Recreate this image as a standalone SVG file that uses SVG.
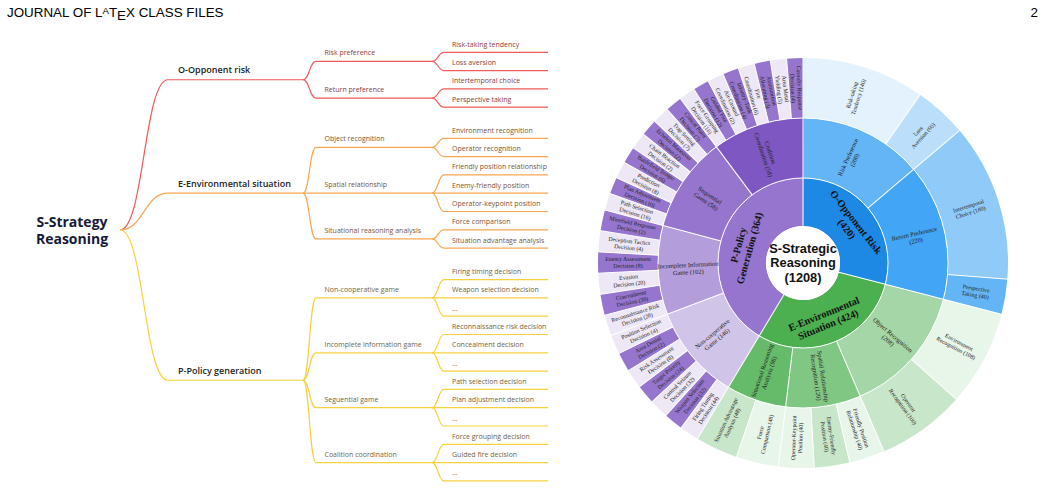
<svg xmlns="http://www.w3.org/2000/svg" width="1045" height="488" viewBox="0 0 1045 488">
<style>
.hdr{font-family:"Liberation Sans",Arial,sans-serif;font-size:13.4px;fill:#000}
.root{font-family:"Open Sans",sans-serif;font-weight:700;font-size:14px;fill:#161a3a;text-anchor:middle}
.l1{font-family:"Open Sans",sans-serif;font-weight:600;font-size:9px;fill:#222}
.l2,.l3{font-family:"Open Sans",sans-serif;font-size:7px}
.o{fill:#8a3c3c}.e{fill:#7a5535}.p{fill:#6f6644}
.co,.ce,.cp{fill:none;stroke-width:1.2}
.co{stroke:#f15b5b}.ce{stroke:#f7a655}.cp{stroke:#f6d13f}
.sb text{font-family:"Liberation Serif","DejaVu Serif",serif;text-anchor:middle;fill:#222}
.sb .lf{font-size:5.9px}
.sb .md{font-size:6.4px}
.sb .ct{font-size:10.2px;font-weight:700;fill:#111}
.sep line,.sep circle{stroke:#fff;stroke-width:1;fill:none}
.cen{font-family:"Liberation Sans",Arial,sans-serif;font-weight:700;font-size:12.8px;text-anchor:middle;fill:#111}
</style>
<defs>
<path id="c1" d="M61,0A61,61 0 1 1 -61,0A61,61 0 1 1 61,0" fill="none" stroke-width="48"/>
<path id="c2" d="M115,0A115,115 0 1 1 -115,0A115,115 0 1 1 115,0" fill="none" stroke-width="60"/>
<path id="c3" d="M175,0A175,175 0 1 1 -175,0A175,175 0 1 1 175,0" fill="none" stroke-width="60"/>
</defs>
<rect width="1045" height="488" fill="#fff"/>
<text class="hdr" x="7" y="17">JOURNAL OF L<tspan dy="-2.7" font-size="9.6">A</tspan><tspan dy="2.7">T</tspan><tspan dy="3">E</tspan><tspan dy="-3">X CLASS FILES</tspan></text>
<text class="hdr" x="1038" y="17" text-anchor="end" font-size="14">2</text>

<g id="connectors">
<g class="co">
<path d="M120,230 C144,230 144,79.75 168,79.75 H303"/>
<path d="M303,79.75 C309.5,79.75 309.5,61.45 316,61.45 H432"/>
<path d="M303,79.75 C309.5,79.75 309.5,98.05 316,98.05 H432"/>
<path d="M432,61.45 C438,61.45 438,52.3 444,52.3 H548"/>
<path d="M432,61.45 C438,61.45 438,70.6 444,70.6 H548"/>
<path d="M432,98.05 C438,98.05 438,88.9 444,88.9 H548"/>
<path d="M432,98.05 C438,98.05 438,107.2 444,107.2 H548"/>
</g>
<g class="ce">
<path d="M120,230 C144,230 144,193.2 168,193.2 H303"/>
<path d="M303,193.2 C309.5,193.2 309.5,147.45 316,147.45 H432"/>
<path d="M303,193.2 H432"/>
<path d="M303,193.2 C309.5,193.2 309.5,238.95 316,238.95 H432"/>
<path d="M432,147.45 C438,147.45 438,138.3 444,138.3 H548"/>
<path d="M432,147.45 C438,147.45 438,156.6 444,156.6 H548"/>
<path d="M432,193.2 C438,193.2 438,174.9 444,174.9 H548"/>
<path d="M432,193.2 H548"/>
<path d="M432,193.2 C438,193.2 438,211.5 444,211.5 H548"/>
<path d="M432,238.95 C438,238.95 438,229.8 444,229.8 H548"/>
<path d="M432,238.95 C438,238.95 438,248.1 444,248.1 H548"/>
</g>
<g class="cp">
<path d="M120,230 C144,230 144,380.25 168,380.25 H303"/>
<path d="M303,380.25 C309.5,380.25 309.5,297.9 316,297.9 H432"/>
<path d="M303,380.25 C309.5,380.25 309.5,352.8 316,352.8 H432"/>
<path d="M303,380.25 C309.5,380.25 309.5,407.7 316,407.7 H432"/>
<path d="M303,380.25 C309.5,380.25 309.5,462.6 316,462.6 H432"/>
<path d="M432,297.9 C438,297.9 438,279.6 444,279.6 H548"/>
<path d="M432,297.9 H548"/>
<path d="M432,297.9 C438,297.9 438,316.2 444,316.2 H548"/>
<path d="M432,352.8 C438,352.8 438,334.5 444,334.5 H548"/>
<path d="M432,352.8 H548"/>
<path d="M432,352.8 C438,352.8 438,371.1 444,371.1 H548"/>
<path d="M432,407.7 C438,407.7 438,389.4 444,389.4 H548"/>
<path d="M432,407.7 H548"/>
<path d="M432,407.7 C438,407.7 438,426 444,426 H548"/>
<path d="M432,462.6 C438,462.6 438,444.3 444,444.3 H548"/>
<path d="M432,462.6 H548"/>
<path d="M432,462.6 C438,462.6 438,480.9 444,480.9 H548"/>
</g>
</g>

<g id="root"><text class="root" x="72" y="227"><tspan x="72" y="227">S-Strategy</tspan><tspan x="72" y="244">Reasoning</tspan></text></g>
<g id="n-O"><text class="l1" x="178" y="73">O-Opponent risk</text></g>
<g id="n-E"><text class="l1" x="178" y="186.5">E-Environmental situation</text></g>
<g id="n-P"><text class="l1" x="178" y="373.5">P-Policy generation</text></g>

<g id="n-O1"><text class="l2 o" x="324.5" y="55.45">Risk preference</text></g>
<g id="n-O2"><text class="l2 o" x="324.5" y="92.05">Return preference</text></g>
<g id="n-E1"><text class="l2 e" x="324.5" y="141.45">Object recognition</text></g>
<g id="n-E2"><text class="l2 e" x="324.5" y="187.2">Spatial relationship</text></g>
<g id="n-E3"><text class="l2 e" x="324.5" y="232.95">Situational reasoning analysis</text></g>
<g id="n-P1"><text class="l2 p" x="324.5" y="291.9">Non-cooperative game</text></g>
<g id="n-P2"><text class="l2 p" x="324.5" y="346.8">Incomplete information game</text></g>
<g id="n-P3"><text class="l2 p" x="324.5" y="401.7">Seguential game</text></g>
<g id="n-P4"><text class="l2 p" x="324.5" y="456.6">Coalition coordination</text></g>

<g id="n-O1a"><text class="l3 o" x="452" y="46.8">Risk-taking tendency</text></g>
<g id="n-O1b"><text class="l3 o" x="452" y="65.1">Loss aversion</text></g>
<g id="n-O2a"><text class="l3 o" x="452" y="83.4">Intertemporal choice</text></g>
<g id="n-O2b"><text class="l3 o" x="452" y="101.7">Perspective taking</text></g>
<g id="n-E1a"><text class="l3 e" x="452" y="132.8">Environment recognition</text></g>
<g id="n-E1b"><text class="l3 e" x="452" y="151.1">Operator recognition</text></g>
<g id="n-E2a"><text class="l3 e" x="452" y="169.4">Friendly position relationship</text></g>
<g id="n-E2b"><text class="l3 e" x="452" y="187.7">Enemy-friendly position</text></g>
<g id="n-E2c"><text class="l3 e" x="452" y="206">Operator-keypoint position</text></g>
<g id="n-E3a"><text class="l3 e" x="452" y="224.3">Force comparison</text></g>
<g id="n-E3b"><text class="l3 e" x="452" y="242.6">Situation advantage analysis</text></g>
<g id="n-P1a"><text class="l3 p" x="452" y="274.1">Firing timing decision</text></g>
<g id="n-P1b"><text class="l3 p" x="452" y="292.4">Weapon selection decision</text></g>
<g id="n-P1c"><text class="l3 p" x="452" y="310.7">...</text></g>
<g id="n-P2a"><text class="l3 p" x="452" y="329">Reconnaissance risk decision</text></g>
<g id="n-P2b"><text class="l3 p" x="452" y="347.3">Concealment decision</text></g>
<g id="n-P2c"><text class="l3 p" x="452" y="365.6">...</text></g>
<g id="n-P3a"><text class="l3 p" x="452" y="383.9">Path selection decision</text></g>
<g id="n-P3b"><text class="l3 p" x="452" y="402.2">Plan adjustment decision</text></g>
<g id="n-P3c"><text class="l3 p" x="452" y="420.5">...</text></g>
<g id="n-P4a"><text class="l3 p" x="452" y="438.8">Force grouping decision</text></g>
<g id="n-P4b"><text class="l3 p" x="452" y="457.1">Guided fire decision</text></g>
<g id="n-P4c"><text class="l3 p" x="452" y="475.4">...</text></g>

<g id="sunburst" class="sb" transform="translate(803 263)">
<g id="ring1">
<use href="#c1" stroke="#1e88e5" stroke-dasharray="111.6 2000" transform="rotate(-90)"/>
<use href="#c1" stroke="#4caf50" stroke-dasharray="113.7 2000" transform="rotate(14.5)"/>
<use href="#c1" stroke="#9575cd" stroke-dasharray="158.9 2000" transform="rotate(121)"/>
</g>
<g id="ring2">
<use href="#c2" stroke="#64b5f6" stroke-dasharray="100.2 2000" transform="rotate(-90)"/>
<use href="#c2" stroke="#42a5f5" stroke-dasharray="110.2 2000" transform="rotate(-40.24)"/>
<use href="#c2" stroke="#a5d6a7" stroke-dasharray="105.2 2000" transform="rotate(14.5)"/>
<use href="#c2" stroke="#81c784" stroke-dasharray="60.8 2000" transform="rotate(66.75)"/>
<use href="#c2" stroke="#66bb6a" stroke-dasharray="48.7 2000" transform="rotate(96.89)"/>
<use href="#c2" stroke="#d1c4e9" stroke-dasharray="77.2 2000" transform="rotate(121)"/>
<use href="#c2" stroke="#b39ddb" stroke-dasharray="72 2000" transform="rotate(159.3)"/>
<use href="#c2" stroke="#9575cd" stroke-dasharray="77.2 2000" transform="rotate(195)"/>
<use href="#c2" stroke="#7e57c2" stroke-dasharray="74 2000" transform="rotate(233.3)"/>
</g>
<g id="ring3">
<use href="#c3" stroke="#e3f2fd" stroke-dasharray="106.7 2000" transform="rotate(-90)"/>
<use href="#c3" stroke="#bbdefb" stroke-dasharray="45.9 2000" transform="rotate(-55.17)"/>
<use href="#c3" stroke="#90caf9" stroke-dasharray="137.1 2000" transform="rotate(-40.24)"/>
<use href="#c3" stroke="#64b5f6" stroke-dasharray="30.7 2000" transform="rotate(4.55)"/>
<use href="#c3" stroke="#e8f5e9" stroke-dasharray="83.2 2000" transform="rotate(14.5)"/>
<use href="#c3" stroke="#c8e6c9" stroke-dasharray="77 2000" transform="rotate(41.63)"/>
<use href="#c3" stroke="#e8f5e9" stroke-dasharray="31 2000" transform="rotate(66.75)"/>
<use href="#c3" stroke="#c8e6c9" stroke-dasharray="31 2000" transform="rotate(76.8)"/>
<use href="#c3" stroke="#e8f5e9" stroke-dasharray="31 2000" transform="rotate(86.84)"/>
<use href="#c3" stroke="#e8f5e9" stroke-dasharray="37.1 2000" transform="rotate(96.89)"/>
<use href="#c3" stroke="#c8e6c9" stroke-dasharray="37.1 2000" transform="rotate(108.95)"/>
<use href="#c3" stroke="#ede7f6" stroke-dasharray="17 2000" transform="rotate(121)"/>
<use href="#c3" stroke="#9575cd" stroke-dasharray="17 2000" transform="rotate(126.47)"/>
<use href="#c3" stroke="#ede7f6" stroke-dasharray="17 2000" transform="rotate(131.94)"/>
<use href="#c3" stroke="#9575cd" stroke-dasharray="17 2000" transform="rotate(137.41)"/>
<use href="#c3" stroke="#ede7f6" stroke-dasharray="17 2000" transform="rotate(142.89)"/>
<use href="#c3" stroke="#9575cd" stroke-dasharray="17 2000" transform="rotate(148.36)"/>
<use href="#c3" stroke="#ede7f6" stroke-dasharray="17 2000" transform="rotate(153.83)"/>
<use href="#c3" stroke="#ede7f6" stroke-dasharray="18.5 2000" transform="rotate(159.3)"/>
<use href="#c3" stroke="#9575cd" stroke-dasharray="18.5 2000" transform="rotate(165.25)"/>
<use href="#c3" stroke="#ede7f6" stroke-dasharray="18.5 2000" transform="rotate(171.2)"/>
<use href="#c3" stroke="#9575cd" stroke-dasharray="18.5 2000" transform="rotate(177.15)"/>
<use href="#c3" stroke="#ede7f6" stroke-dasharray="18.5 2000" transform="rotate(183.1)"/>
<use href="#c3" stroke="#9575cd" stroke-dasharray="18.5 2000" transform="rotate(189.05)"/>
<use href="#c3" stroke="#ede7f6" stroke-dasharray="14.9 2000" transform="rotate(195)"/>
<use href="#c3" stroke="#9575cd" stroke-dasharray="14.9 2000" transform="rotate(199.79)"/>
<use href="#c3" stroke="#ede7f6" stroke-dasharray="14.9 2000" transform="rotate(204.58)"/>
<use href="#c3" stroke="#9575cd" stroke-dasharray="14.9 2000" transform="rotate(209.36)"/>
<use href="#c3" stroke="#ede7f6" stroke-dasharray="14.9 2000" transform="rotate(214.15)"/>
<use href="#c3" stroke="#9575cd" stroke-dasharray="14.9 2000" transform="rotate(218.94)"/>
<use href="#c3" stroke="#ede7f6" stroke-dasharray="14.9 2000" transform="rotate(223.73)"/>
<use href="#c3" stroke="#9575cd" stroke-dasharray="14.9 2000" transform="rotate(228.51)"/>
<use href="#c3" stroke="#ede7f6" stroke-dasharray="14.3 2000" transform="rotate(233.3)"/>
<use href="#c3" stroke="#9575cd" stroke-dasharray="14.3 2000" transform="rotate(237.89)"/>
<use href="#c3" stroke="#ede7f6" stroke-dasharray="14.3 2000" transform="rotate(242.48)"/>
<use href="#c3" stroke="#9575cd" stroke-dasharray="14.3 2000" transform="rotate(247.06)"/>
<use href="#c3" stroke="#ede7f6" stroke-dasharray="14.3 2000" transform="rotate(251.65)"/>
<use href="#c3" stroke="#9575cd" stroke-dasharray="14.3 2000" transform="rotate(256.24)"/>
<use href="#c3" stroke="#ede7f6" stroke-dasharray="14.3 2000" transform="rotate(260.83)"/>
<use href="#c3" stroke="#9575cd" stroke-dasharray="14.1 2000" transform="rotate(265.41)"/>
</g>
<g class="sep">
<circle r="85"/><circle r="145"/>
<line y1="-37" y2="-206" transform="rotate(0)"/>
<line y1="-37" y2="-206" transform="rotate(104.5)"/>
<line y1="-37" y2="-206" transform="rotate(211)"/>
<line y1="-85" y2="-206" transform="rotate(49.76)"/>
<line y1="-85" y2="-206" transform="rotate(156.75)"/>
<line y1="-85" y2="-206" transform="rotate(186.89)"/>
<line y1="-85" y2="-206" transform="rotate(249.3)"/>
<line y1="-85" y2="-206" transform="rotate(285)"/>
<line y1="-85" y2="-206" transform="rotate(323.3)"/>
<line y1="-145" y2="-206" transform="rotate(34.83)"/>
<line y1="-145" y2="-206" transform="rotate(94.55)"/>
<line y1="-145" y2="-206" transform="rotate(131.63)"/>
<line y1="-145" y2="-206" transform="rotate(166.8)"/>
<line y1="-145" y2="-206" transform="rotate(176.84)"/>
<line y1="-145" y2="-206" transform="rotate(198.95)"/>
<line y1="-145" y2="-206" transform="rotate(216.47)"/>
<line y1="-145" y2="-206" transform="rotate(221.94)"/>
<line y1="-145" y2="-206" transform="rotate(227.41)"/>
<line y1="-145" y2="-206" transform="rotate(232.89)"/>
<line y1="-145" y2="-206" transform="rotate(238.36)"/>
<line y1="-145" y2="-206" transform="rotate(243.83)"/>
<line y1="-145" y2="-206" transform="rotate(255.25)"/>
<line y1="-145" y2="-206" transform="rotate(261.2)"/>
<line y1="-145" y2="-206" transform="rotate(267.15)"/>
<line y1="-145" y2="-206" transform="rotate(273.1)"/>
<line y1="-145" y2="-206" transform="rotate(279.05)"/>
<line y1="-145" y2="-206" transform="rotate(289.79)"/>
<line y1="-145" y2="-206" transform="rotate(294.58)"/>
<line y1="-145" y2="-206" transform="rotate(299.36)"/>
<line y1="-145" y2="-206" transform="rotate(304.15)"/>
<line y1="-145" y2="-206" transform="rotate(308.94)"/>
<line y1="-145" y2="-206" transform="rotate(313.73)"/>
<line y1="-145" y2="-206" transform="rotate(318.51)"/>
<line y1="-145" y2="-206" transform="rotate(327.89)"/>
<line y1="-145" y2="-206" transform="rotate(332.48)"/>
<line y1="-145" y2="-206" transform="rotate(337.06)"/>
<line y1="-145" y2="-206" transform="rotate(341.65)"/>
<line y1="-145" y2="-206" transform="rotate(346.24)"/>
<line y1="-145" y2="-206" transform="rotate(350.83)"/>
<line y1="-145" y2="-206" transform="rotate(355.41)"/>
</g>
<circle r="37" fill="#fff"/>

<g id="labels-ring1">
<text class="ct" transform="rotate(52.25) translate(0 -61)"><tspan x="0" y="-2.5">O-Opponent Risk</tspan><tspan x="0" y="9">(420)</tspan></text>
<text class="ct" transform="rotate(157.75) translate(0 -61) rotate(180)"><tspan x="0" y="-2.5">E-Environmental</tspan><tspan x="0" y="9">Situation (424)</tspan></text>
<text class="ct" transform="rotate(285.5) translate(0 -61)"><tspan x="0" y="-2.5">P-Policy</tspan><tspan x="0" y="9">Generation (364)</tspan></text>
</g>
<g id="labels-ring2">
<text class="md" transform="rotate(24.88) translate(0 -115) rotate(-90)"><tspan x="0" y="-1.6">Risk Preference</tspan><tspan x="0" y="5.7">(200)</tspan></text>
<text class="md" transform="rotate(77.13) translate(0 -115) rotate(-90)"><tspan x="0" y="-1.6">Return Preference</tspan><tspan x="0" y="5.7">(220)</tspan></text>
<text class="md" transform="rotate(130.63) translate(0 -115) rotate(-90)"><tspan x="0" y="-1.6">Object Recognition</tspan><tspan x="0" y="5.7">(208)</tspan></text>
<text class="md" transform="rotate(171.82) translate(0 -115) rotate(-90)"><tspan x="0" y="-1.6">Spatial Relationship</tspan><tspan x="0" y="5.7">Recognition (120)</tspan></text>
<text class="md" transform="rotate(198.95) translate(0 -115) rotate(90)"><tspan x="0" y="-1.6">Situational Reasoning</tspan><tspan x="0" y="5.7">Analysis (96)</tspan></text>
<text class="md" transform="rotate(230.15) translate(0 -115) rotate(90)"><tspan x="0" y="-1.6">Non-cooperative</tspan><tspan x="0" y="5.7">Game (146)</tspan></text>
<text class="md" transform="rotate(267.15) translate(0 -115) rotate(90)"><tspan x="0" y="-1.6">Incomplete Information</tspan><tspan x="0" y="5.7">Game (102)</tspan></text>
<text class="md" transform="rotate(304.15) translate(0 -115) rotate(90)"><tspan x="0" y="-1.6">Sequential</tspan><tspan x="0" y="5.7">Game (58)</tspan></text>
<text class="md" transform="rotate(341.65) translate(0 -115) rotate(90)"><tspan x="0" y="-1.6">Coalition</tspan><tspan x="0" y="5.7">Coordination (58)</tspan></text>
</g>
<g id="labels-ring3">
<text class="lf" transform="rotate(17.42) translate(0 -175) rotate(-90)"><tspan x="0" y="-1.6">Risk-taking</tspan><tspan x="0" y="5.2">Tendency (140)</tspan></text>
<text class="lf" transform="rotate(42.3) translate(0 -175) rotate(-90)"><tspan x="0" y="-1.6">Loss</tspan><tspan x="0" y="5.2">Aversion (60)</tspan></text>
<text class="lf" transform="rotate(72.16) translate(0 -175) rotate(-90)"><tspan x="0" y="-1.6">Intertemporal</tspan><tspan x="0" y="5.2">Choice (180)</tspan></text>
<text class="lf" transform="rotate(99.53) translate(0 -175) rotate(-90)"><tspan x="0" y="-1.6">Perspective</tspan><tspan x="0" y="5.2">Taking (40)</tspan></text>
<text class="lf" transform="rotate(118.07) translate(0 -175) rotate(-90)"><tspan x="0" y="-1.6">Environment</tspan><tspan x="0" y="5.2">Recognition (108)</tspan></text>
<text class="lf" transform="rotate(144.19) translate(0 -175) rotate(-90)"><tspan x="0" y="-1.6">Operator</tspan><tspan x="0" y="5.2">Recognition (100)</tspan></text>
<text class="lf" transform="rotate(161.78) translate(0 -175) rotate(-90)"><tspan x="0" y="-1.6">Friendly Position</tspan><tspan x="0" y="5.2">Relationship (40)</tspan></text>
<text class="lf" transform="rotate(171.82) translate(0 -175) rotate(-90)"><tspan x="0" y="-1.6">Enemy-Friendly</tspan><tspan x="0" y="5.2">Position (40)</tspan></text>
<text class="lf" transform="rotate(181.87) translate(0 -175) rotate(90)"><tspan x="0" y="-1.6">Operator-Keypoint</tspan><tspan x="0" y="5.2">Position (40)</tspan></text>
<text class="lf" transform="rotate(192.92) translate(0 -175) rotate(90)"><tspan x="0" y="-1.6">Force</tspan><tspan x="0" y="5.2">Comparison (48)</tspan></text>
<text class="lf" transform="rotate(204.97) translate(0 -175) rotate(90)"><tspan x="0" y="-1.6">Situation Advantage</tspan><tspan x="0" y="5.2">Analysis (48)</tspan></text>
<text class="lf" transform="rotate(213.74) translate(0 -175) rotate(90)"><tspan x="0" y="-1.6">Firing Timing</tspan><tspan x="0" y="5.2">Decision (44)</tspan></text>
<text class="lf" transform="rotate(219.21) translate(0 -175) rotate(90)"><tspan x="0" y="-1.6">Weapon Selection</tspan><tspan x="0" y="5.2">Decision (32)</tspan></text>
<text class="lf" transform="rotate(224.68) translate(0 -175) rotate(90)"><tspan x="0" y="-1.6">Control Seizure</tspan><tspan x="0" y="5.2">Decision (32)</tspan></text>
<text class="lf" transform="rotate(230.15) translate(0 -175) rotate(90)"><tspan x="0" y="-1.6">Target Priority</tspan><tspan x="0" y="5.2">Decision (24)</tspan></text>
<text class="lf" transform="rotate(235.62) translate(0 -175) rotate(90)"><tspan x="0" y="-1.6">Risk Assessment</tspan><tspan x="0" y="5.2">Decision (8)</tspan></text>
<text class="lf" transform="rotate(241.09) translate(0 -175) rotate(90)"><tspan x="0" y="-1.6">Area Denial</tspan><tspan x="0" y="5.2">Decision (2)</tspan></text>
<text class="lf" transform="rotate(246.57) translate(0 -175) rotate(90)"><tspan x="0" y="-1.6">Position Selection</tspan><tspan x="0" y="5.2">Decision (4)</tspan></text>
<text class="lf" transform="rotate(252.28) translate(0 -175) rotate(90)"><tspan x="0" y="-1.6">Reconnaissance Risk</tspan><tspan x="0" y="5.2">Decision (28)</tspan></text>
<text class="lf" transform="rotate(258.23) translate(0 -175) rotate(90)"><tspan x="0" y="-1.6">Concealment</tspan><tspan x="0" y="5.2">Decision (30)</tspan></text>
<text class="lf" transform="rotate(264.18) translate(0 -175) rotate(90)"><tspan x="0" y="-1.6">Evasion</tspan><tspan x="0" y="5.2">Decision (20)</tspan></text>
<text class="lf" transform="rotate(270.13) translate(0 -175) rotate(90)"><tspan x="0" y="-1.6">Enemy Assessment</tspan><tspan x="0" y="5.2">Decision (8)</tspan></text>
<text class="lf" transform="rotate(276.08) translate(0 -175) rotate(90)"><tspan x="0" y="-1.6">Deception Tactics</tspan><tspan x="0" y="5.2">Decision (4)</tspan></text>
<text class="lf" transform="rotate(282.03) translate(0 -175) rotate(90)"><tspan x="0" y="-1.6">Minefield Response</tspan><tspan x="0" y="5.2">Decision (2)</tspan></text>
<text class="lf" transform="rotate(287.39) translate(0 -175) rotate(90)"><tspan x="0" y="-1.6">Path Selection</tspan><tspan x="0" y="5.2">Decision (16)</tspan></text>
<text class="lf" transform="rotate(292.18) translate(0 -175) rotate(90)"><tspan x="0" y="-1.6">Plan Adjustment</tspan><tspan x="0" y="5.2">Decision (10)</tspan></text>
<text class="lf" transform="rotate(296.97) translate(0 -175) rotate(90)"><tspan x="0" y="-1.6">Prediction</tspan><tspan x="0" y="5.2">Decision (8)</tspan></text>
<text class="lf" transform="rotate(301.76) translate(0 -175) rotate(90)"><tspan x="0" y="-1.6">Battlefield Tempo</tspan><tspan x="0" y="5.2">Decision (6)</tspan></text>
<text class="lf" transform="rotate(306.54) translate(0 -175) rotate(90)"><tspan x="0" y="-1.6">Chain Reaction</tspan><tspan x="0" y="5.2">Decision (2)</tspan></text>
<text class="lf" transform="rotate(311.33) translate(0 -175) rotate(90)"><tspan x="0" y="-1.6">Echelon Maneuver</tspan><tspan x="0" y="5.2">Decision (2)</tspan></text>
<text class="lf" transform="rotate(316.12) translate(0 -175) rotate(90)"><tspan x="0" y="-1.6">Trap Setting</tspan><tspan x="0" y="5.2">Decision (7)</tspan></text>
<text class="lf" transform="rotate(320.91) translate(0 -175) rotate(90)"><tspan x="0" y="-1.6">Critical Point</tspan><tspan x="0" y="5.2">Decision (7)</tspan></text>
<text class="lf" transform="rotate(325.59) translate(0 -175) rotate(90)"><tspan x="0" y="-1.6">Force Grouping</tspan><tspan x="0" y="5.2">Decision (16)</tspan></text>
<text class="lf" transform="rotate(330.18) translate(0 -175) rotate(90)"><tspan x="0" y="-1.6">Guided Fire</tspan><tspan x="0" y="5.2">Decision (12)</tspan></text>
<text class="lf" transform="rotate(334.77) translate(0 -175) rotate(90)"><tspan x="0" y="-1.6">Air-Ground</tspan><tspan x="0" y="5.2">Coordination (2)</tspan></text>
<text class="lf" transform="rotate(339.36) translate(0 -175) rotate(90)"><tspan x="0" y="-1.6">Infantry-Tank</tspan><tspan x="0" y="5.2">Coordination (4)</tspan></text>
<text class="lf" transform="rotate(343.94) translate(0 -175) rotate(90)"><tspan x="0" y="-1.6">Fire</tspan><tspan x="0" y="5.2">Coordination (6)</tspan></text>
<text class="lf" transform="rotate(348.53) translate(0 -175) rotate(90)"><tspan x="0" y="-1.6">Ammunition</tspan><tspan x="0" y="5.2">Allocating (3)</tspan></text>
<text class="lf" transform="rotate(353.12) translate(0 -175) rotate(90)"><tspan x="0" y="-1.6">Area Metal</tspan><tspan x="0" y="5.2">Yielding (5)</tspan></text>
<text class="lf" transform="rotate(357.71) translate(0 -175) rotate(90)"><tspan x="0" y="-1.6">Casualty Response</tspan><tspan x="0" y="5.2">Decision (4)</tspan></text>
</g>
</g>
<g id="center-label">
<text class="cen" x="803" y="252.5"><tspan x="803" y="252.5">S-Strategic</tspan><tspan x="803" y="267.25">Reasoning</tspan><tspan x="803" y="282">(1208)</tspan></text>
</g>
</svg>
